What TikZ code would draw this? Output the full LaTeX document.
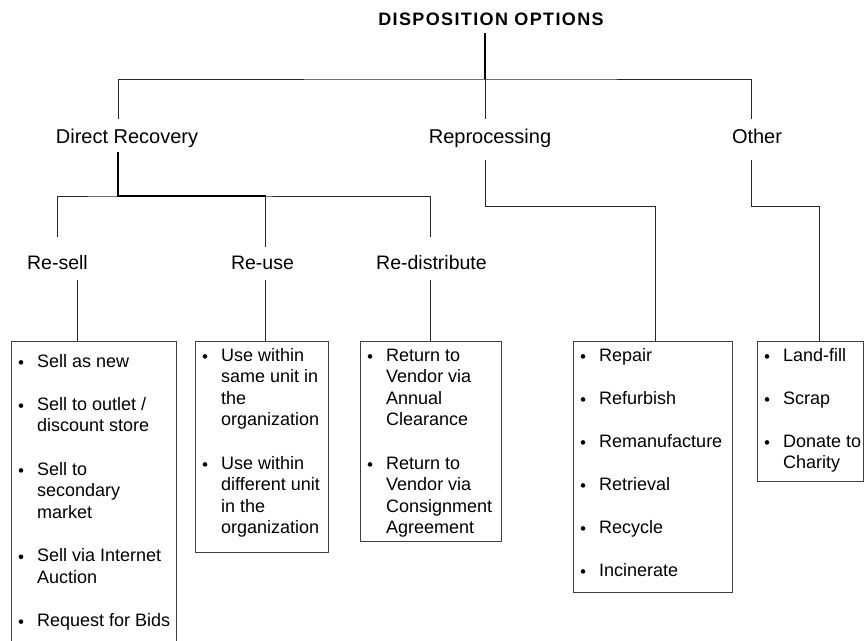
\documentclass[tikz,border=0pt]{standalone}
\usepackage{fontspec}
\setmainfont{Liberation Sans}

% one bulleted entry inside a list box: name, box, drop from box top, lines
\newcommand{\listentry}[4]{%
  \node[entry] (#1) at ([xshift=26pt,yshift=-#3pt]#2.north west)
    {\begin{tabular}[t]{@{}l@{}}#4\end{tabular}};
  \fill ([xshift=-16pt,yshift=4.6pt]#1.base west) circle (2.3pt);
}

\begin{document}
\begin{tikzpicture}[x=1pt,y=-1pt,
  conn/.style={line width=0.9pt, black!85},
  heavyconn/.style={line width=1.6pt, black},
  headline/.style={font=\fontsize{18}{22}\selectfont\bfseries\addfontfeature{LetterSpace=7.6},
    anchor=base, inner sep=0pt, outer ysep=8pt},
  catlabel/.style={font=\fontsize{20}{24}\selectfont, anchor=base, inner sep=0pt,
    text height=15.5pt, text depth=0pt, outer ysep=8.5pt},
  sublabel/.style={font=\fontsize{19.5}{24}\selectfont, anchor=base, inner sep=0pt,
    text height=14pt, text depth=0pt, outer ysep=11pt},
  listbox/.style={draw=black!75, line width=1pt, rectangle, anchor=north west, inner sep=0pt},
  entry/.style={font=\fontsize{18}{21.6}\selectfont, anchor=base west, inner sep=0pt},
]
\useasboundingbox (0,0) rectangle (864,640);
\clip (0,0) rectangle (864,640);

% headings
\node[headline] (title) at (491,25) {DISPOSITION OPTIONS};
\node[catlabel] (dr) at (127,143) {Direct Recovery};
\node[catlabel] (rp) at (490,143) {Reprocessing};
\node[catlabel] (ot) at (757,143) {Other};
\node[sublabel] (rs) at (57.5,269) {Re-sell};
\node[sublabel] (ru) at (262.5,269) {Re-use};
\node[sublabel] (rd) at (431.5,269) {Re-distribute};

% list boxes
\node[listbox, minimum width=165pt, minimum height=309pt] (bx-rs) at (11,341) {};
\node[listbox, minimum width=133pt, minimum height=211pt] (bx-ru) at (195,341) {};
\node[listbox, minimum width=141pt, minimum height=200pt] (bx-rd) at (360,341) {};
\node[listbox, minimum width=159pt, minimum height=251pt] (bx-rp) at (573,341) {};
\node[listbox, minimum width=105.5pt, minimum height=140pt] (bx-ot) at (757,341) {};

% entries
\listentry{rs1}{bx-rs}{26}{Sell as new}
\listentry{rs2}{bx-rs}{69.2}{Sell to outlet /\\discount store}
\listentry{rs3}{bx-rs}{134}{Sell to\\secondary\\market}
\listentry{rs4}{bx-rs}{220.4}{Sell via Internet\\Auction}
\listentry{rs5}{bx-rs}{285.2}{Request for Bids}

\listentry{ru1}{bx-ru}{20}{Use within\\same unit in\\the\\organization}
\listentry{ru2}{bx-ru}{128}{Use within\\different unit\\in the\\organization}

\listentry{rd1}{bx-rd}{20}{Return to\\Vendor via\\Annual\\Clearance}
\listentry{rd2}{bx-rd}{128}{Return to\\Vendor via\\Consignment\\Agreement}

\listentry{rp1}{bx-rp}{20}{Repair}
\listentry{rp2}{bx-rp}{63}{Refurbish}
\listentry{rp3}{bx-rp}{106}{Remanufacture}
\listentry{rp4}{bx-rp}{149}{Retrieval}
\listentry{rp5}{bx-rp}{192}{Recycle}
\listentry{rp6}{bx-rp}{235}{Incinerate}

\listentry{ot1}{bx-ot}{20}{Land-fill}
\listentry{ot2}{bx-ot}{63}{Scrap}
\listentry{ot3}{bx-ot}{106}{Donate to\\Charity}

% junctions and line channels
\coordinate (hub) at (485,79);
\coordinate (hub-dr) at (118,196);
\coordinate (bend-rp) at (655,206);
\coordinate (bend-ot) at (819,206);
\coordinate (ch-dr) at (118,0);
\coordinate (ch-ot) at (751,0);
\coordinate (ch-rs) at (57,0);
\coordinate (ch-rs2) at (77,0);
\coordinate (ch-ru) at (265.5,0);
\coordinate (ch-rd) at (430,0);
\coordinate (rs-up) at ([yshift=7pt]rs.north);
\coordinate (rd-up) at ([yshift=7pt]rd.north);
\coordinate (ru-up) at ([yshift=-3pt]ru.north);
\coordinate (rp-down) at ([yshift=-8.5pt]rp.south);
\coordinate (ot-down) at ([yshift=-8.5pt]ot.south);

% connectors
\draw[conn] (dr.north -| ch-dr) |- (hub) -| (ot.north -| ch-ot);
\draw[conn] (hub) -- (rp.north -| hub);
\draw[conn] (rs-up -| ch-rs) |- (hub-dr) -| (rd-up -| ch-rd);
\draw[conn] (ru-up -| ch-ru) -- (hub-dr -| ch-ru);
\draw[conn] (rs.south -| ch-rs2) -- (bx-rs.north -| ch-rs2);
\draw[conn] (ru.south -| ch-ru) -- (bx-ru.north -| ch-ru);
\draw[conn] (rd.south -| ch-rd) -- (bx-rd.north -| ch-rd);
\draw[conn] (rp-down -| hub) |- (bend-rp) -- (bx-rp.north -| bend-rp);
\draw[conn] (ot-down -| ch-ot) |- (bend-ot) -- (bx-ot.north -| bend-ot);
\draw[heavyconn] (title.south -| hub) -- (hub);
\draw[heavyconn] (dr.south -| ch-dr) -- (hub-dr) -- (hub-dr -| ch-ru);
\end{tikzpicture}
\end{document}
